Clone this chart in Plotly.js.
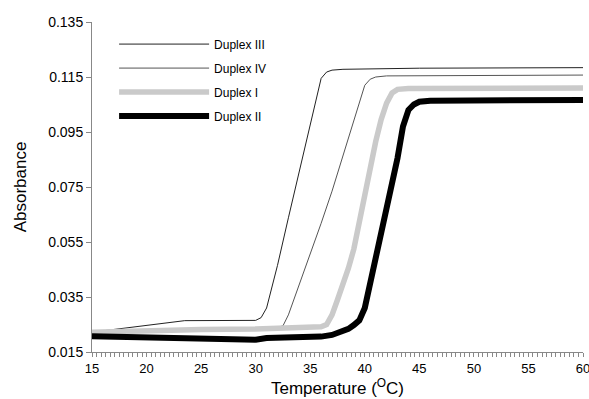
<!DOCTYPE html>
<html>
<head>
<meta charset="utf-8">
<script src="https://cdn.plot.ly/plotly-3.0.1.min.js"></script>
<style>html,body{margin:0;padding:0;background:#fff;}#chart{width:589px;height:399px;}</style>
</head>
<body>
<div id="chart"></div>
<script>
// Temperature (°C) and absorbance readings for each duplex
const t3 = [15, 23.5, 30, 30.5, 31, 32, 33, 34, 35, 35.6, 36, 36.5, 37, 38, 45, 60];
const a3 = [0.0222, 0.0264, 0.0265, 0.0275, 0.031, 0.0465, 0.0638, 0.0811, 0.0984, 0.1088, 0.1145, 0.1168, 0.1175, 0.1178, 0.1182, 0.1184];

const t4 = [15, 25, 32, 32.5, 33, 34, 35, 36, 37, 38, 39, 39.5, 40, 40.5, 41, 42, 60];
const a4 = [0.0222, 0.0235, 0.0240, 0.0245, 0.0285, 0.0395, 0.0505, 0.0618, 0.0735, 0.0865, 0.0995, 0.1060, 0.1120, 0.1142, 0.1150, 0.1154, 0.1157];

const t1 = [15, 20, 25, 30, 35, 36, 36.5, 37, 37.5, 38, 38.5, 39, 39.5, 40, 40.5, 41, 41.5, 42, 42.5, 43, 44, 60];
const a1 = [0.0222, 0.0228, 0.0232, 0.0234, 0.0237, 0.0242, 0.0250, 0.0285, 0.0340, 0.0395, 0.0455, 0.0525, 0.0625, 0.0735, 0.0830, 0.0915, 0.0995, 0.1055, 0.1092, 0.1105, 0.1108, 0.1110];

const t2 = [15, 20, 25, 29, 30, 31, 33, 35, 36, 37, 38, 38.5, 39, 39.5, 40, 40.5, 41, 41.5, 42, 42.5, 43, 43.5, 44, 44.5, 45, 46, 60];
const a2 = [0.0207, 0.0204, 0.0201, 0.0198, 0.0195, 0.0201, 0.0203, 0.0204, 0.0206, 0.0212, 0.0224, 0.0234, 0.0248, 0.0265, 0.0310, 0.0400, 0.0500, 0.0605, 0.0690, 0.0770, 0.0855, 0.0970, 0.1030, 0.1050, 0.1060, 0.1064, 0.1066];

const names = ['Duplex III', 'Duplex IV', 'Duplex I', 'Duplex II'];
const yTicks = [0.015, 0.035, 0.055, 0.075, 0.095, 0.115, 0.135];
const xTicks = [15, 20, 25, 30, 35, 40, 45, 50, 55, 60];

const font = 'Liberation Sans, Arial, sans-serif';

const traces = [
  {x: t3, y: a3, name: names[0], legendgroup: 'g3', mode: 'lines', line: {color: '#222', width: 1}},
  {x: t4, y: a4, name: names[1], legendgroup: 'g4', mode: 'lines', line: {color: '#555', width: 1}},
  {x: t1, y: a1, name: names[2], legendgroup: 'g1', mode: 'lines', line: {color: '#cacaca', width: 5.5}},
  {x: t2, y: a2, name: names[3], legendgroup: 'g2', mode: 'lines', line: {color: '#000', width: 6}}
];

const layout = {
  width: 589, height: 399,
  margin: {l: 92, r: 6, t: 22, b: 47},
  paper_bgcolor: '#fff', plot_bgcolor: '#fff',
  font: {family: font, size: 14, color: '#000'},
  showlegend: true,
  legend: {x: 0.045, y: 0.977, xanchor: 'left', yanchor: 'top', itemwidth: 90,
           traceorder: 'grouped', tracegroupgap: 5,
           font: {family: font, size: 12, color: '#000'}, bgcolor: 'rgba(0,0,0,0)'},
  xaxis: {
    range: [15, 60], tickvals: xTicks, ticktext: xTicks.map(String),
    ticklabeloverflow: 'allow',
    showline: true, linecolor: '#888', linewidth: 1, showgrid: false, zeroline: false,
    ticks: 'outside', ticklen: 4, tickcolor: '#888',
    minor: {dtick: 5/12, ticks: 'outside', ticklen: 4, tickcolor: '#888', showgrid: false},
    tickfont: {family: font, size: 13},
    title: {text: 'Temperature (<sup>O</sup>C)', font: {family: font, size: 17}, standoff: 7}
  },
  yaxis: {
    range: [0.015, 0.135], tickvals: yTicks, ticktext: yTicks.map(v => v.toFixed(3)),
    ticklabeloverflow: 'allow',
    showline: true, linecolor: '#888', linewidth: 1, showgrid: false, zeroline: false,
    ticks: 'outside', ticklen: 5, tickcolor: '#888',
    tickfont: {family: font, size: 14},
    title: {text: 'Absorbance', font: {family: font, size: 17}, standoff: 17}
  }
};

Plotly.newPlot('chart', traces, layout, {displayModeBar: false, staticPlot: true});
</script>
</body>
</html>
